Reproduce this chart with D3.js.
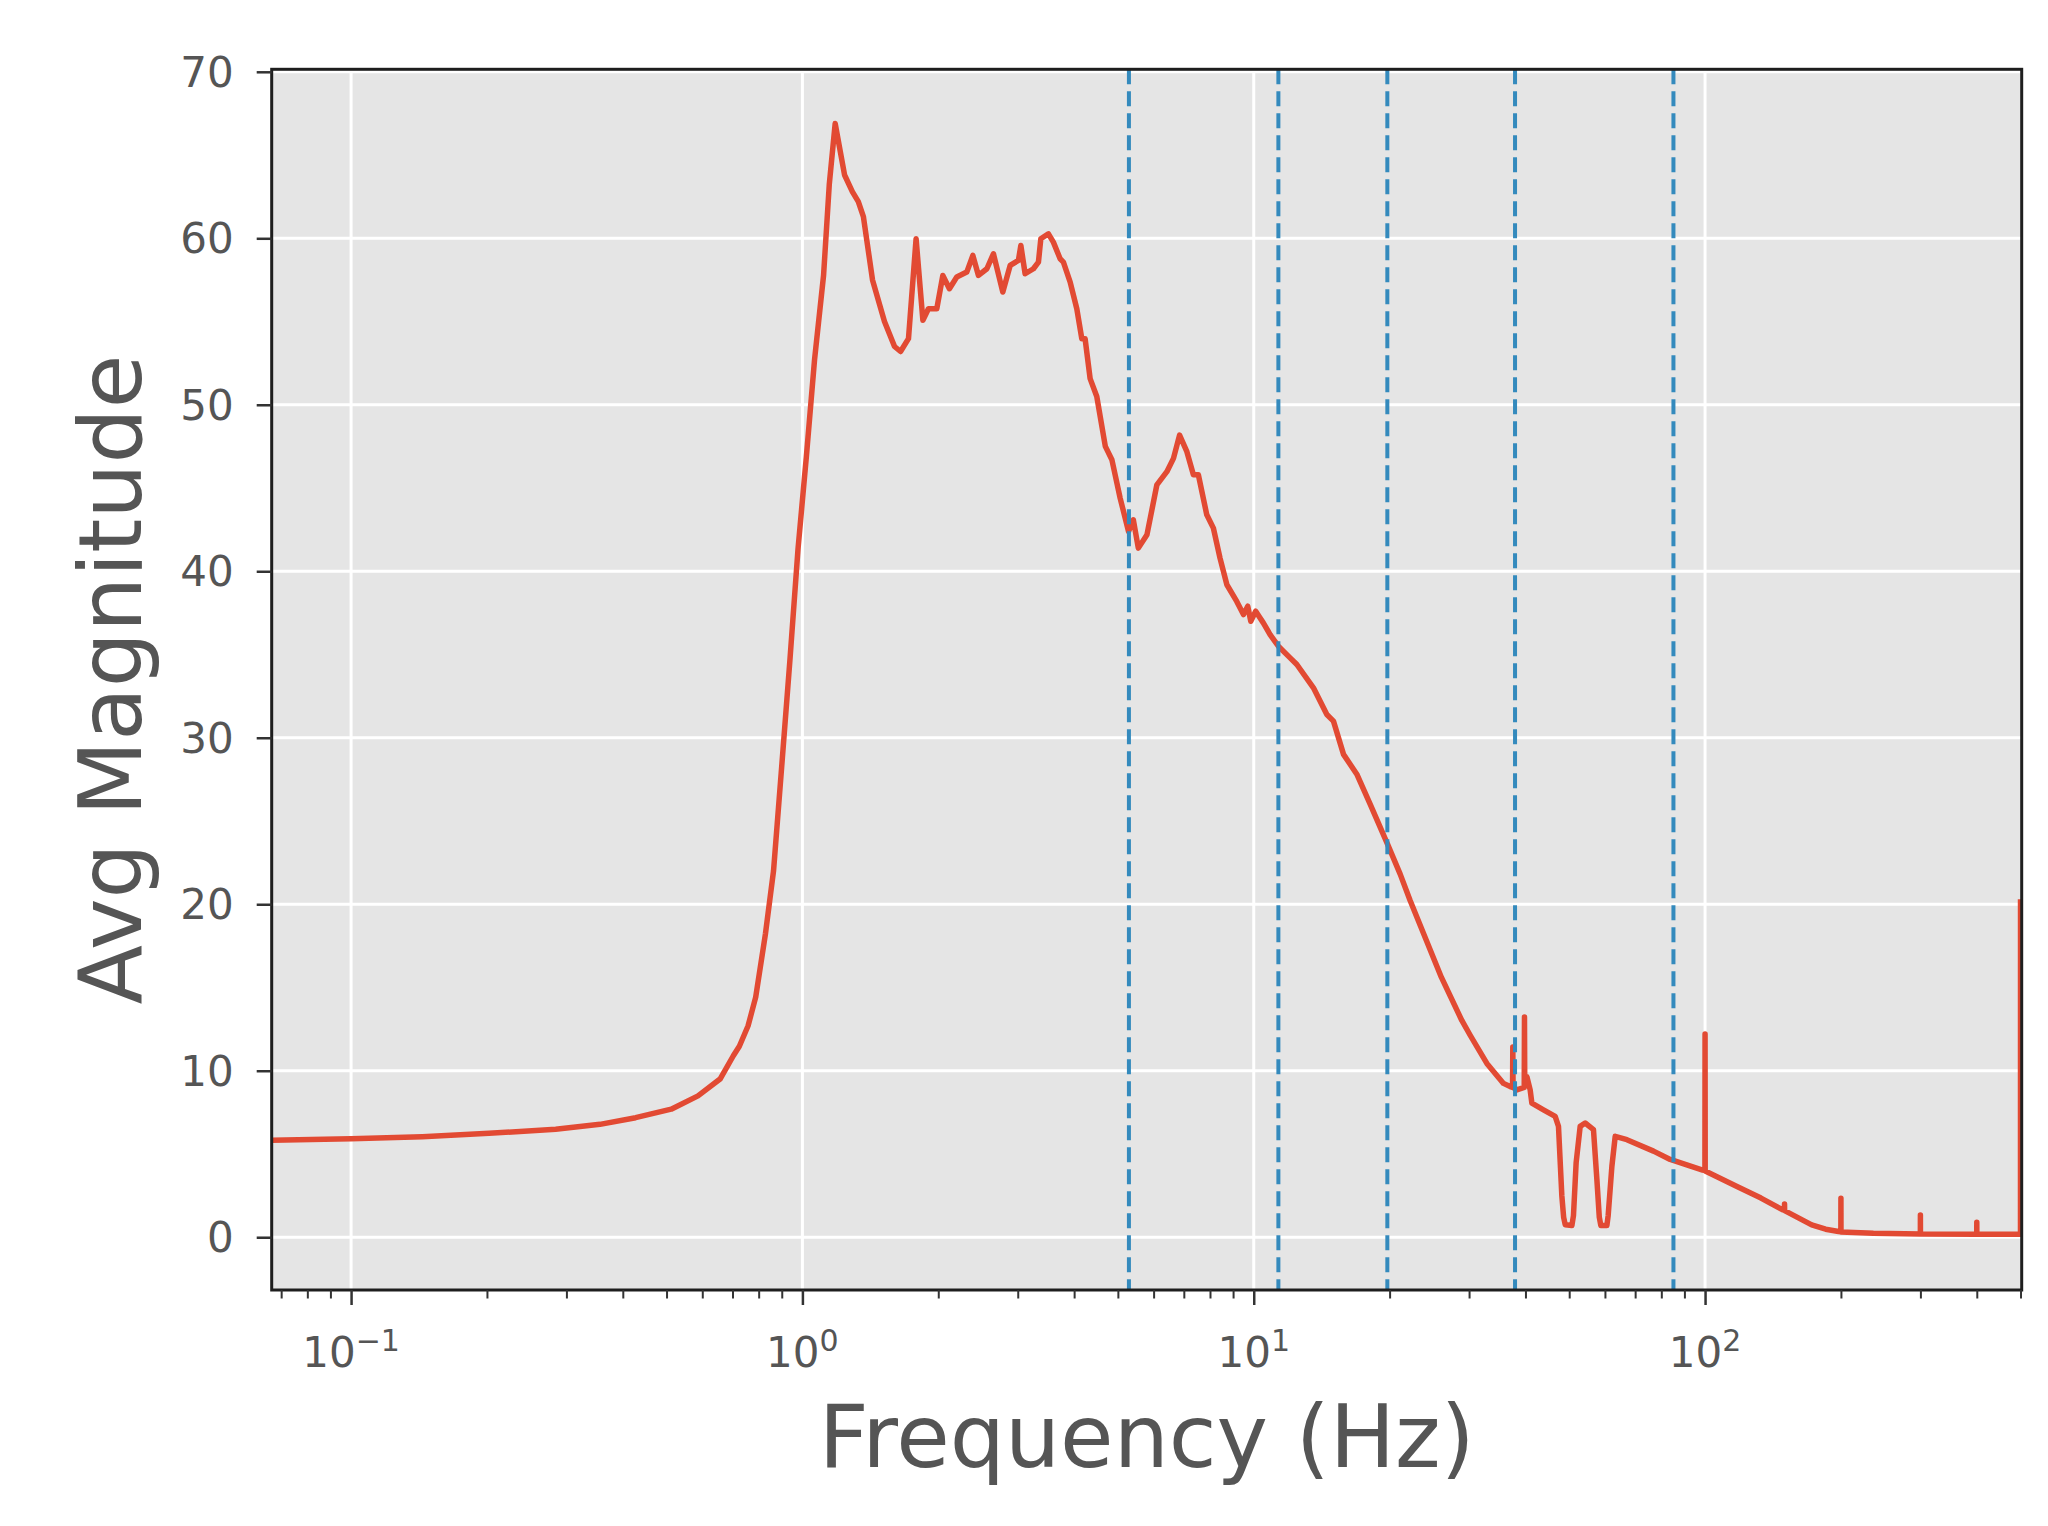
<!DOCTYPE html>
<html>
<head>
<meta charset="utf-8">
<script src="https://cdn.jsdelivr.net/npm/d3@7"></script>
<style>
    body { margin: 0; background: #ffffff; }
    svg text { font-family: "DejaVu Sans", sans-serif; }
</style>
</head>
<body>
<div id="chart"></div>
<script>
// --- DATA ---
const freqHz = [
    0.0667, 0.1, 0.1438, 0.2021, 0.284, 0.356, 0.427, 0.512, 0.587, 0.657, 0.703,
    0.725, 0.758, 0.788, 0.828, 0.863, 0.900, 0.938, 0.978, 1.020, 1.064, 1.114, 1.147, 1.182,
    1.240, 1.29, 1.33, 1.365, 1.43, 1.52, 1.60, 1.65, 1.718, 1.786, 1.849, 1.902, 1.985,
    2.047, 2.117, 2.198, 2.313, 2.386, 2.455, 2.563, 2.650, 2.780, 2.886, 3.010, 3.048,
    3.115, 3.250, 3.334, 3.375, 3.508, 3.598, 3.724, 3.787, 3.920, 4.055, 4.16, 4.23,
    4.34, 4.49, 4.69, 4.85, 5.06, 5.28, 5.41, 5.55, 5.80, 6.10, 6.42, 6.64, 6.85, 7.11,
    7.35, 7.54, 7.87, 8.14, 8.42, 8.72, 9.17, 9.49, 9.7, 9.85, 10.1, 10.33, 10.5, 10.87,
    11.34, 12.04, 12.46, 13.56, 14.52, 15.02, 15.81, 16.92, 18.11, 19.79, 21.11, 22.22,
    26.04, 28.91, 30.17, 32.85, 35.76, 37.0, 37.45, 37.5, 37.55, 38.28, 39.75, 39.8, 39.85,
    40.29, 40.97, 41.33, 43.85, 46.55, 47.34, 48.16, 48.6, 49.0, 50.69, 51.1, 51.8, 52.88,
    54.24, 56.59, 57.58, 58.3, 58.76, 60.59, 61.0, 62.17, 63.23, 67.12, 76.87, 83.7,
    98.78, 99.93, 100.0, 100.07, 118.0, 133.0, 148.7, 149.93, 150.0, 150.07, 172.3, 185.0, 197.6,
    199.93, 200.0, 200.07, 236.0, 299.93, 300.0, 300.07, 399.93, 400.0, 400.07, 499.9, 500.0
];
const avgMagnitude = [
    5.83, 5.92, 6.04, 6.24, 6.48, 6.78, 7.18, 7.69, 8.49, 9.50, 10.9,
    11.47, 12.7, 14.42, 18.21, 22.0, 28.31, 34.62, 41.36, 46.83, 52.72, 57.77, 63.24, 66.9,
    63.8, 62.8, 62.2, 61.3, 57.5, 55.0, 53.5, 53.2, 53.97, 59.97, 55.07, 55.77, 55.77,
    57.77, 56.97, 57.67, 57.97, 58.97, 57.77, 58.17, 59.07, 56.77, 58.37, 58.67, 59.57,
    57.87, 58.17, 58.57, 59.97, 60.27, 59.77, 58.77, 58.57, 57.37, 55.77, 53.97, 53.97,
    51.57, 50.5, 47.5, 46.7, 44.38, 42.39, 43.09, 41.39, 42.19, 45.19, 45.98, 46.78, 48.18, 47.18,
    45.79, 45.79, 43.39, 42.59, 40.79, 39.19, 38.19, 37.40, 37.9, 37.0, 37.6, 37.19, 36.9, 36.20,
    35.50, 34.80, 34.40, 33.00, 31.40, 31.00, 29.00, 27.81, 26.01, 23.61, 21.81, 20.21,
    15.62, 13.02, 12.13, 10.44, 9.24, 9.05, 9.0, 11.43, 9.0, 8.85, 9.0, 13.22, 9.6,
    9.64, 8.85, 8.05, 7.65, 7.26, 6.66, 2.48, 1.2, 0.75, 0.70, 1.3, 4.47, 6.66,
    6.86, 6.46, 3.48, 1.2, 0.70, 0.70, 1.3, 4.27, 6.06, 5.86, 5.17, 4.67,
    4.03, 4.0, 12.2, 3.98, 3.03, 2.35, 1.64, 1.62, 2.0, 1.6, 0.74, 0.48, 0.34,
    0.32, 2.34, 0.32, 0.24, 0.2, 1.34, 0.2, 0.18, 0.9, 0.18, 0.18, 20.3
];
const bandEdgesHz = [5.29, 11.34, 19.77, 37.93, 85.1];
const yTicks = [0, 10, 20, 30, 40, 50, 60, 70];
const xTickExponents = [-1, 0, 1, 2];

const xDomain = [0.0667, 503];
const yDomain = [-3.17, 70.15];

// --- LAYOUT ---
const W = 2048, H = 1526;
const plot = { left: 271.7, top: 69.3, width: 1750, height: 1220.7 };

const svg = d3.select("#chart").append("svg").attr("width", W).attr("height", H);
const g = svg.append("g").attr("transform", `translate(${plot.left},${plot.top})`);

const x = d3.scaleLog().domain(xDomain).range([0, plot.width]);
const y = d3.scaleLinear().domain(yDomain).range([plot.height, 0]);

// background
g.append("rect").attr("width", plot.width).attr("height", plot.height).attr("fill", "#e5e5e5");

// grid
const majorX = xTickExponents.map(e => Math.pow(10, e));
g.selectAll(".gx").data(majorX).enter().append("line")
    .attr("x1", d => x(d)).attr("x2", d => x(d)).attr("y1", 0).attr("y2", plot.height)
    .attr("stroke", "#ffffff").attr("stroke-width", 3);
g.selectAll(".gy").data(yTicks).enter().append("line")
    .attr("x1", 0).attr("x2", plot.width).attr("y1", d => y(d)).attr("y2", d => y(d))
    .attr("stroke", "#ffffff").attr("stroke-width", 3);

// curve
svg.append("clipPath").attr("id", "clip").append("rect")
    .attr("width", plot.width).attr("height", plot.height);
const points = freqHz.map((f, i) => [f, avgMagnitude[i]]);
const line = d3.line().x(d => x(d[0])).y(d => y(d[1]));
g.append("path").datum(points)
    .attr("clip-path", "url(#clip)")
    .attr("fill", "none").attr("stroke", "#e24a33").attr("stroke-width", 5.5)
    .attr("stroke-linejoin", "round")
    .attr("d", line);

// band edges (dashed)
g.selectAll(".band").data(bandEdgesHz).enter().append("line")
    .attr("x1", d => x(d)).attr("x2", d => x(d)).attr("y1", 0).attr("y2", plot.height)
    .attr("stroke", "#348abd").attr("stroke-width", 4).attr("stroke-dasharray", "15,7");

// spines
g.append("rect").attr("width", plot.width).attr("height", plot.height)
    .attr("fill", "none").attr("stroke", "#1e1e1e").attr("stroke-width", 3);

// y axis
const yAxis = g.append("g").call(d3.axisLeft(y).tickValues(yTicks).tickSize(15).tickFormat(""));
yAxis.select(".domain").remove();
yAxis.selectAll("line").attr("stroke", "#333").attr("stroke-width", 2.5);
g.selectAll(".ylab").data(yTicks).enter().append("text")
    .attr("x", -38).attr("y", d => y(d)).attr("dy", "0.36em")
    .attr("text-anchor", "end").attr("fill", "#555555").style("font-size", "42px")
    .text(d => d);

// x axis: major + minor ticks
const minorX = [];
for (let e = -2; e <= 2; e++) {
    for (let m = 2; m <= 9; m++) {
        const v = m * Math.pow(10, e);
        if (v > xDomain[0] && v < xDomain[1]) minorX.push(v);
    }
}
const xMajor = g.append("g").attr("transform", `translate(0,${plot.height})`)
    .call(d3.axisBottom(x).tickValues(majorX).tickSize(15).tickFormat(""));
xMajor.select(".domain").remove();
xMajor.selectAll("line").attr("stroke", "#333").attr("stroke-width", 2.5);
const xMinor = g.append("g").attr("transform", `translate(0,${plot.height})`)
    .call(d3.axisBottom(x).tickValues(minorX).tickSize(8.5).tickFormat(""));
xMinor.select(".domain").remove();
xMinor.selectAll("line").attr("stroke", "#333").attr("stroke-width", 2);

const xl = g.selectAll(".xlab").data(xTickExponents).enter().append("text")
    .attr("x", d => x(Math.pow(10, d))).attr("y", plot.height + 77)
    .attr("text-anchor", "middle").attr("fill", "#555555").style("font-size", "42px");
xl.append("tspan").text("10");
xl.append("tspan").attr("dy", -16).style("font-size", "30px")
    .text(d => d < 0 ? "\u2212" + Math.abs(d) : String(d));

// axis titles
svg.append("text")
    .attr("x", plot.left + plot.width / 2).attr("y", 1467)
    .attr("text-anchor", "middle").attr("fill", "#555555").style("font-size", "87px")
    .text("Frequency (Hz)");
svg.append("text")
    .attr("transform", `translate(141,${plot.top + plot.height / 2}) rotate(-90)`)
    .attr("text-anchor", "middle").attr("fill", "#555555").style("font-size", "87px")
    .text("Avg Magnitude");
</script>
</body>
</html>
